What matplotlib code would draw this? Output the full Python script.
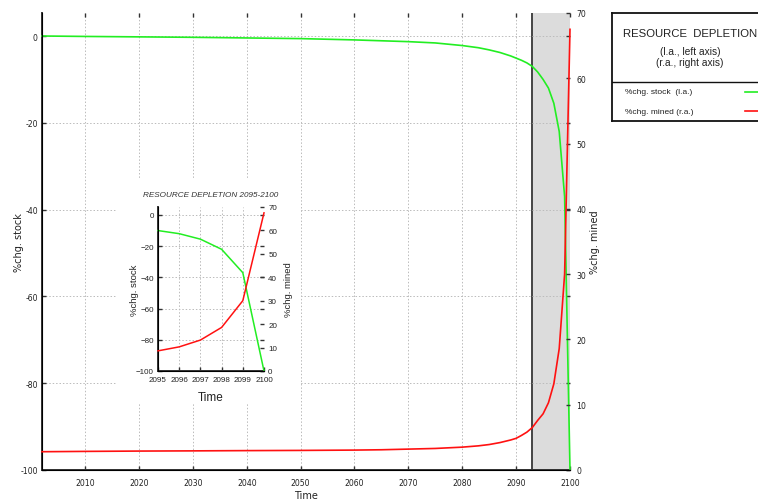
import numpy as np
import matplotlib.pyplot as plt
from matplotlib.patches import Rectangle
from matplotlib.lines import Line2D
from matplotlib.ticker import FuncFormatter
# --------------------------------------------------------------------------------------------------
# values
YEARS = [2002, 2010, 2020, 2030, 2040, 2050, 2060, 2065, 2070, 2075, 2080, 2083, 2085, 2087,
         2089, 2090, 2091, 2092, 2093, 2094, 2095, 2096, 2097, 2098, 2099, 2100]
STOCK = [0.0, -0.1, -0.2, -0.3, -0.45, -0.6, -0.9, -1.1, -1.3, -1.6, -2.2, -2.7, -3.2, -3.8,
         -4.6, -5.1, -5.6, -6.2, -7.0, -8.3, -10.0, -12.0, -15.5, -22.0, -37.0, -100.0]
MINED = [2.8, 2.85, 2.9, 2.93, 2.97, 3.0, 3.05, 3.1, 3.2, 3.3, 3.5, 3.7, 3.9, 4.2,
         4.6, 4.85, 5.3, 5.8, 6.5, 7.6, 8.6, 10.3, 13.2, 18.6, 30.0, 67.5]
MAIN_XTICKS = list(range(2010, 2101, 10))
LEFT_TICKS = [0, -20, -40, -60, -80, -100]
RIGHT_TICKS = list(range(0, 71, 10))
INSET_YEARS = [2095, 2096, 2097, 2098, 2099, 2100]
SHADE = (2093, 2100)
FILE_FIG = "out.png"

GREEN = "#22ee22"
RED = "#ff1111"
GRID = "#bbbbbb"
TXT = "#222222"
W, H = 758, 502
# --------------------------------------------------------------------------------------------------


def fx(px):
    return px / W


def fy(px):
    return 1 - px / H


def style_axes(ax, ax2, size, family, top=True):
    for a in (ax, ax2):
        a.spines["top"].set_visible(False)
        a.spines["right"].set_visible(False)
        a.patch.set_visible(a is ax)
    ax.spines["left"].set_linewidth(1.4)
    ax.spines["bottom"].set_linewidth(1.4)
    ax.spines["left"].set_color("#333333")
    ax.spines["bottom"].set_color("#333333")
    ax.tick_params(direction="in", length=3, width=1, colors="#333333", labelcolor=TXT,
                   labelsize=size, top=top, right=True, pad=3)
    ax.tick_params(axis="x", pad=6)
    ax2.tick_params(direction="in", length=3, width=1, colors="#333333", labelcolor=TXT,
                    labelsize=size, pad=4.5)
    for lab in ax.get_xticklabels() + ax.get_yticklabels() + ax2.get_yticklabels():
        lab.set_family(family)
    ax.grid(True, color=GRID, linestyle=(0, (1.5, 2)), linewidth=0.7)


def main():
    plt.rcParams["font.family"] = "DejaVu Sans"
    plt.rcParams["axes.unicode_minus"] = False
    fig = plt.figure(figsize=(W / 100, H / 100), dpi=100)

    # ----------------------------------------------------------------------------------------------
    # main chart
    ax = fig.add_axes([fx(42), fy(471), fx(570 - 42), (471 - 14) / H])
    ax2 = ax.twinx()
    ax.set_xlim(2002, 2100)
    ax.set_ylim(-100, 5.3)
    ax2.set_ylim(0, 70)
    ax.set_xticks(MAIN_XTICKS)
    ax.set_yticks(LEFT_TICKS)
    ax2.set_yticks(RIGHT_TICKS)
    ax.axvspan(SHADE[0], SHADE[1], color="#dcdcdc", zorder=0, lw=0)
    ax.axvline(SHADE[0], color="#444444", lw=1.4, zorder=1)
    ax.plot(YEARS, STOCK, color=GREEN, lw=1.2, zorder=3, clip_on=False)
    ax2.plot(YEARS, MINED, color=RED, lw=1.2, zorder=3, clip_on=False)
    style_axes(ax, ax2, 5.6, "DejaVu Sans")
    ax.set_xlabel("Time", fontsize=7, color=TXT)
    ax.set_ylabel("%chg. stock", fontsize=7, color=TXT)
    ax2.set_ylabel("%chg. mined", fontsize=7, color=TXT)
    ax.xaxis.set_label_coords(0.5, -0.043)
    ax.yaxis.set_label_coords(-0.034, 0.5)
    ax2.yaxis.set_label_coords(1.038, 0.5)

    # white background under the inset
    fig.add_artist(Rectangle((fx(117), fy(404)), fx(300 - 117), (404 - 179) / H,
                             transform=fig.transFigure, facecolor="white",
                             edgecolor="none", zorder=1))

    # ----------------------------------------------------------------------------------------------
    # inset
    i0 = YEARS.index(INSET_YEARS[0])
    ins = fig.add_axes([fx(158), fy(372), fx(264 - 158), (372 - 208) / H], zorder=2)
    ins2 = ins.twinx()
    ins2.set_zorder(2.5)
    ins.set_xlim(2095, 2100)
    ins.set_ylim(-100, 5.1)
    ins2.set_ylim(0, 70)
    ins.set_xticks(INSET_YEARS)
    ins.set_yticks(LEFT_TICKS)
    ins2.set_yticks(RIGHT_TICKS)
    ins.yaxis.set_major_formatter(FuncFormatter(lambda v, p: "%d" % v if v >= 0
                                                else "\u2212%d" % -v))
    ins.plot(YEARS[i0:], STOCK[i0:], color=GREEN, lw=1.1, zorder=3, clip_on=False)
    ins2.plot(YEARS[i0:], MINED[i0:], color=RED, lw=1.1, zorder=3, clip_on=False)
    style_axes(ins, ins2, 5.8, "Liberation Sans", top=False)
    ins.tick_params(axis="x", pad=3.5)
    ins2.tick_params(pad=3)
    ins.set_xlabel("Time", fontsize=8.5, family="Liberation Sans", color=TXT)
    ins.set_ylabel("%chg. stock", fontsize=6.8, family="Liberation Sans", color=TXT)
    ins2.set_ylabel("%chg. mined", fontsize=6.8, family="Liberation Sans", color=TXT)
    ins.xaxis.set_label_coords(0.5, -0.12)
    ins.yaxis.set_label_coords(-0.18, 0.5)
    ins2.yaxis.set_label_coords(1.19, 0.5)
    ins.set_title("RESOURCE DEPLETION 2095-2100", fontsize=5.9, family="Liberation Sans",
                  style="italic", color="#333333", pad=8)

    # ----------------------------------------------------------------------------------------------
    # legend box (runs past the right edge of the figure)
    leg = fig.add_axes([fx(612), fy(122), fx(768 - 612), (122 - 14) / H])
    leg.set_xlim(612, 768)
    leg.set_ylim(122, 14)
    leg.set_xticks([])
    leg.set_yticks([])
    for s in leg.spines.values():
        s.set_linewidth(1.3)
        s.set_color("#111111")
    leg.text(690, 34, "RESOURCE  DEPLETION", ha="center", va="center", fontsize=8.2,
             family="Liberation Sans", color=TXT)
    leg.text(690, 52, "(l.a., left axis)", ha="center", va="center", fontsize=7.3,
             family="Liberation Sans", color=TXT)
    leg.text(690, 62.5, "(r.a., right axis)", ha="center", va="center", fontsize=7.3,
             family="Liberation Sans", color=TXT)
    leg.add_line(Line2D([612, 768], [83, 83], color="#111111", lw=1))
    leg.text(625, 93, "%chg. stock  (l.a.)", ha="left", va="center", fontsize=6,
             family="Liberation Sans", color=TXT)
    leg.text(625, 112, "%chg. mined (r.a.)", ha="left", va="center", fontsize=6,
             family="Liberation Sans", color=TXT)
    leg.add_line(Line2D([745, 768], [93, 93], color=GREEN, lw=1.2))
    leg.add_line(Line2D([745, 768], [112, 112], color=RED, lw=1.2))

    fig.savefig(FILE_FIG, dpi=100)
    plt.close(fig)
# --------------------------------------------------------------------------------------------------


if __name__ == '__main__':
    main()
